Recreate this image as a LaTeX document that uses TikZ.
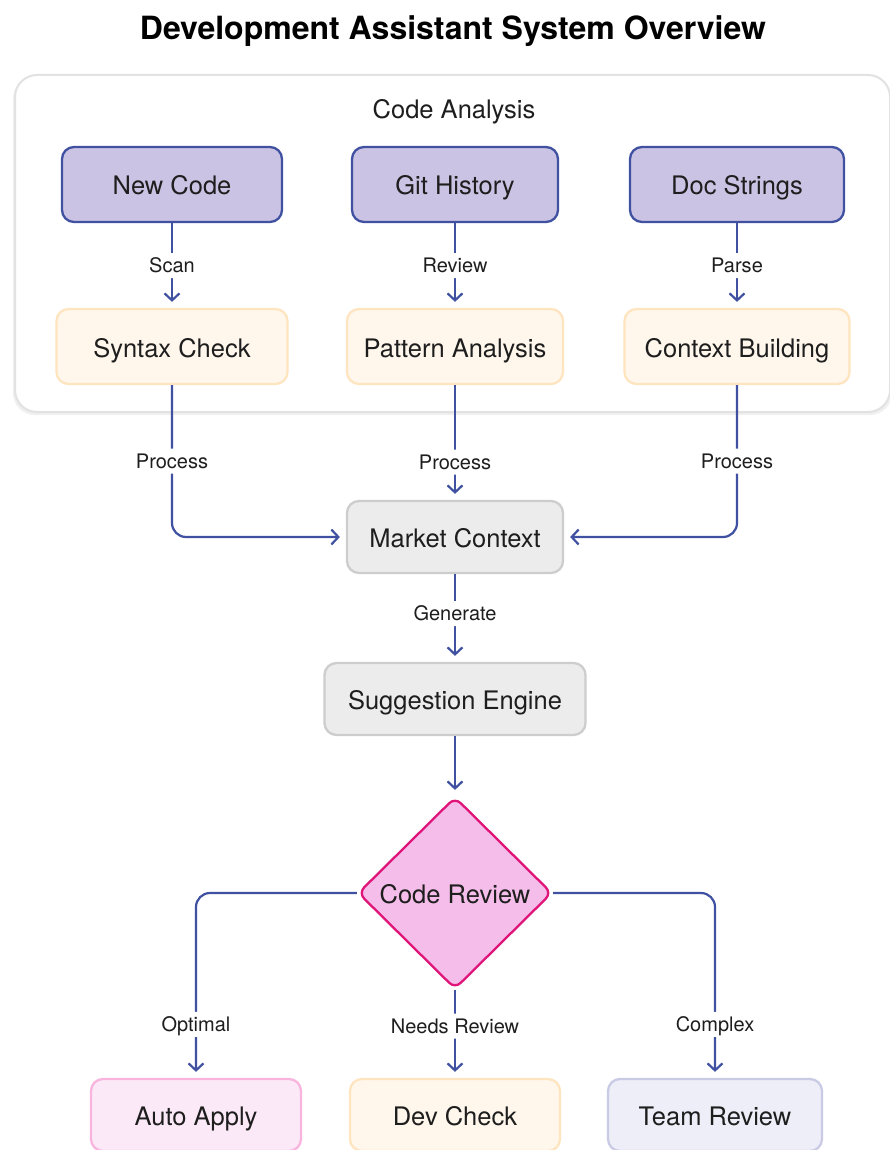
\documentclass[tikz,border=0pt]{standalone}
\usepackage{fontspec}
\setmainfont{TeX Gyre Heros}
\usetikzlibrary{arrows.meta,shapes.geometric}
\definecolor{edgec}{RGB}{63,81,160}
\definecolor{txt}{RGB}{30,30,30}
\definecolor{lavf}{RGB}{203,195,227}
\definecolor{lavb}{RGB}{63,81,160}
\definecolor{peaf}{RGB}{255,247,236}
\definecolor{peab}{RGB}{255,228,192}
\definecolor{gryf}{RGB}{236,236,236}
\definecolor{gryb}{RGB}{205,205,205}
\definecolor{pnkf}{RGB}{245,189,233}
\definecolor{pnkb}{RGB}{224,21,122}
\definecolor{lpkf}{RGB}{252,233,248}
\definecolor{lpkb}{RGB}{248,180,221}
\definecolor{lblf}{RGB}{238,238,248}
\definecolor{lblb}{RGB}{201,203,229}
\definecolor{club}{RGB}{226,226,226}
\begin{document}
\begin{tikzpicture}[x=1pt,y=-1pt,
  txtfont/.style={font=\fontsize{25.5}{30}\selectfont, text=txt, text height=24pt, text depth=3pt},
  box/.style={draw, rounded corners=12pt, line width=2.3pt, minimum height=75pt, inner sep=0pt, txtfont},
  srcbox/.style={box, draw=lavb, fill=lavf},
  peabox/.style={box, draw=peab, fill=peaf},
  grybox/.style={box, draw=gryb, fill=gryf, minimum height=72pt},
  lpkbox/.style={box, draw=lpkb, fill=lpkf, minimum height=72pt},
  lblbox/.style={box, draw=lblb, fill=lblf, minimum height=72pt},
  lbl/.style={fill=white, inner sep=3pt, font=\fontsize{20}{24}\selectfont, text=txt,
    text height=16.5pt, text depth=2.5pt},
  conn/.style={draw=edgec, line width=2.2pt, -{Straight Barb[length=7pt,width=15pt]},
    shorten >=6pt, rounded corners=14pt}
]
\useasboundingbox (0,0) rectangle (889,1150);
\fill[white] (0,0) rectangle (889,1150);

\node[font=\bfseries\fontsize{32}{38}\selectfont, text=black] (title) at (453,31)
  {Development Assistant System Overview};

% cluster
\fill[black!6, rounded corners=22pt] (13,77) rectangle (892,415);
\draw[club, fill=white, line width=2pt, rounded corners=22pt] (15,75) rectangle (890,412);
\node[txtfont] (clabel) at (454,108) {Code Analysis};

% sources
\node[srcbox, minimum width=220pt] (newcode) at (172,184.5) {New Code};
\node[srcbox, minimum width=206pt] (git) at (455,184.5) {Git History};
\node[srcbox, minimum width=214pt] (doc) at (737,184.5) {Doc Strings};

\node[peabox, minimum width=231pt] (syntax) at (172,346.5) {Syntax Check};
\node[peabox, minimum width=216pt] (pattern) at (455,346.5) {Pattern Analysis};
\node[peabox, minimum width=225pt] (context) at (737,346.5) {Context Building};

\node[grybox, minimum width=216pt] (market) at (455,537) {Market Context};
\node[grybox, minimum width=261pt] (sugg) at (455,699) {Suggestion Engine};

\node[diamond, draw=pnkb, fill=pnkf, line width=2.3pt, rounded corners=8pt,
  minimum width=194pt, minimum height=192pt, inner sep=0pt, txtfont] (review) at (455,893) {Code Review};

\node[lpkbox, minimum width=210pt] (auto) at (196,1115) {Auto Apply};
\node[peabox, minimum width=210pt, minimum height=72pt] (dev) at (455,1115) {Dev Check};
\node[lblbox, minimum width=214pt] (team) at (715,1115) {Team Review};

% connectors
\draw[conn] (newcode) -- node[lbl, pos=0.5] (lscan) {Scan} (syntax);
\draw[conn] (git) -- node[lbl, pos=0.5] (lrev) {Review} (pattern);
\draw[conn] (doc) -- node[lbl, pos=0.5] (lparse) {Parse} (context);

\draw[conn] (syntax.south) |- node[lbl, pos=0.25] (lp1) {Process} (market.west);
\draw[conn] (pattern.south) -- node[lbl, pos=0.67] (lp2) {Process} (market.north);
\draw[conn] (context.south) |- node[lbl, pos=0.25] (lp3) {Process} (market.east);

\draw[conn] (market.south) -- node[lbl, pos=0.45] (lgen) {Generate} (sugg.north);
\draw[conn] (sugg.south) -- (review.north);

\draw[conn] (review.west) -| node[lbl, pos=0.855] (lopt) {Optimal} (auto.north);
\draw[conn] (review.south) -- node[lbl, pos=0.41] (lneed) {Needs Review} (dev.north);
\draw[conn] (review.east) -| node[lbl, pos=0.855] (lcomp) {Complex} (team.north);
\end{tikzpicture}
\end{document}
